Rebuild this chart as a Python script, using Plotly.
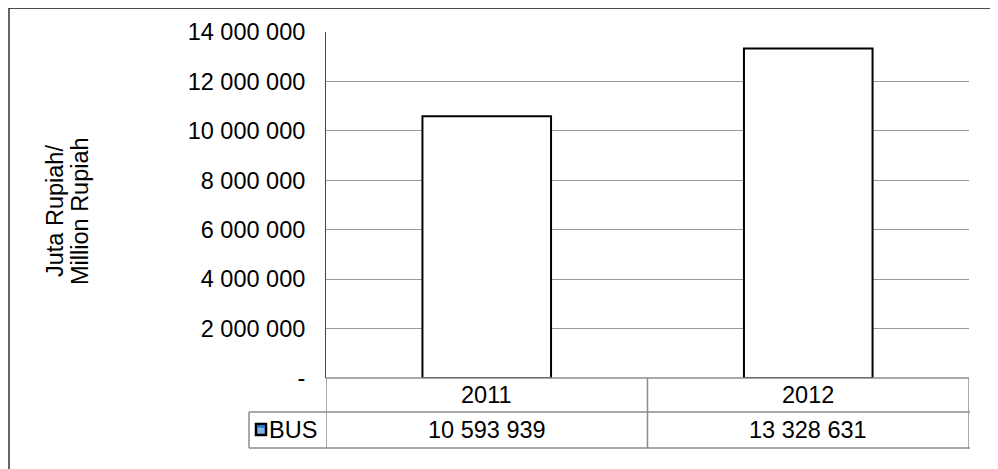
import plotly.graph_objects as go

# ---- data ----
years = ["2011", "2012"]
bus_values = [10593939, 13328631]
series_name = "BUS"
tick_vals = [0, 2000000, 4000000, 6000000, 8000000, 10000000, 12000000, 14000000]
tick_text = ["-", "2 000 000", "4 000 000", "6 000 000", "8 000 000",
             "10 000 000", "12 000 000", "14 000 000"]
y_title_lines = ["Juta Rupiah/", "Million Rupiah"]

def fmt(v):
    return f"{v:,}".replace(",", " ")

# ---- geometry helpers (page pixel -> paper); page body has 8px margin ----
OFF = 8
W, H = 998 - OFF, 469 - OFF
L, R, T, B = 326 - OFF, 969 - OFF, 32 - OFF, 378 - OFF
PW, PH = R - L, B - T

def px(x):
    return (x - OFF - L) / PW

def py(y):
    return (B - (y - OFF)) / PH

FONT = "Liberation Sans, Arial, sans-serif"
FS = 23.5
GRID = "#9a9a9a"
TBL = "#8c8c8c"

fig = go.Figure()
fig.add_trace(go.Bar(
    x=years, y=bus_values, name=series_name,
    marker=dict(color="white", line=dict(color="black", width=2)),
    showlegend=False,
))

shapes = []
# outer border (left and top, continue off-page)
shapes.append(dict(type="line", xref="paper", yref="paper",
                   x0=px(9), x1=px(9), y0=py(8), y1=py(480),
                   line=dict(color="#333333", width=1.5)))
shapes.append(dict(type="line", xref="paper", yref="paper",
                   x0=px(9), x1=px(1010), y0=py(8), y1=py(8),
                   line=dict(color="#111111", width=1.5)))

# data table
row1_top, row1_bot, row2_bot = 378, 412, 448
tbl_left = 249
n = len(years)
shapes.append(dict(type="line", xref="x", yref="paper",
                   x0=-0.5, x1=n - 0.5, y0=py(row1_top), y1=py(row1_top),
                   line=dict(color=TBL, width=1.5)))
shapes.append(dict(type="line", xref="paper", yref="paper",
                   x0=px(tbl_left), x1=px(970), y0=py(row1_bot), y1=py(row1_bot),
                   line=dict(color=TBL, width=1.5)))
shapes.append(dict(type="line", xref="paper", yref="paper",
                   x0=px(tbl_left), x1=px(970), y0=py(row2_bot), y1=py(row2_bot),
                   line=dict(color=TBL, width=1.5)))
shapes.append(dict(type="line", xref="paper", yref="paper",
                   x0=px(tbl_left), x1=px(tbl_left), y0=py(row1_bot), y1=py(row2_bot),
                   line=dict(color=TBL, width=1.5)))
for i in range(n + 1):
    b = i - 0.5
    shapes.append(dict(type="line", xref="x", yref="paper",
                       x0=b, x1=b, y0=py(row1_top), y1=py(row2_bot),
                       line=dict(color=TBL, width=1.5)))
# legend key
shapes.append(dict(type="rect", xref="paper", yref="paper",
                   x0=px(256), x1=px(266), y0=py(424), y1=py(435),
                   fillcolor="#7fb6ea", line=dict(color="black", width=2.5)))
shapes.append(dict(type="rect", xref="paper", yref="paper",
                   x0=px(257), x1=px(265), y0=py(425.5), y1=py(427.5),
                   fillcolor="#1f6fd0", line=dict(width=0)))

txt_font = dict(family=FONT, size=FS, color="black")
annotations = []
for i, (yr, v) in enumerate(zip(years, bus_values)):
    annotations.append(dict(x=i, y=py((row1_top + row1_bot) / 2), xref="x", yref="paper",
                            xanchor="center", yanchor="middle",
                            text=yr, showarrow=False, font=txt_font))
    annotations.append(dict(x=i, y=py((row1_bot + row2_bot) / 2), xref="x", yref="paper",
                            xanchor="center", yanchor="middle",
                            text=fmt(v), showarrow=False, font=txt_font))
annotations.append(dict(x=px(267), y=py((row1_bot + row2_bot) / 2), xref="paper", yref="paper",
                        xanchor="left", yanchor="middle", text=series_name,
                        showarrow=False, font=txt_font))
for xc, line in zip([55, 80], y_title_lines):
    annotations.append(dict(x=px(xc), y=py(211), xref="paper", yref="paper",
                            xanchor="center", yanchor="middle",
                            text=line, textangle=-90, showarrow=False, font=txt_font))

fig.update_layout(
    width=W, height=H,
    margin=dict(l=L, r=W - R, t=T, b=H - B, pad=0),
    paper_bgcolor="white", plot_bgcolor="white",
    bargap=0.6,
    xaxis=dict(range=[-0.5, n - 0.5], showticklabels=False, showgrid=False,
               zeroline=False, showline=False, ticks=""),
    yaxis=dict(range=[0, 14000000], tickvals=tick_vals, ticktext=tick_text,
               showgrid=True, gridcolor=GRID, gridwidth=1,
               zeroline=False, showline=True, linecolor="#444444", linewidth=1,
               ticks="", ticklabelstandoff=15, tickfont=txt_font),
    shapes=shapes,
    annotations=annotations,
    showlegend=False,
)

fig.write_html("out.html")
